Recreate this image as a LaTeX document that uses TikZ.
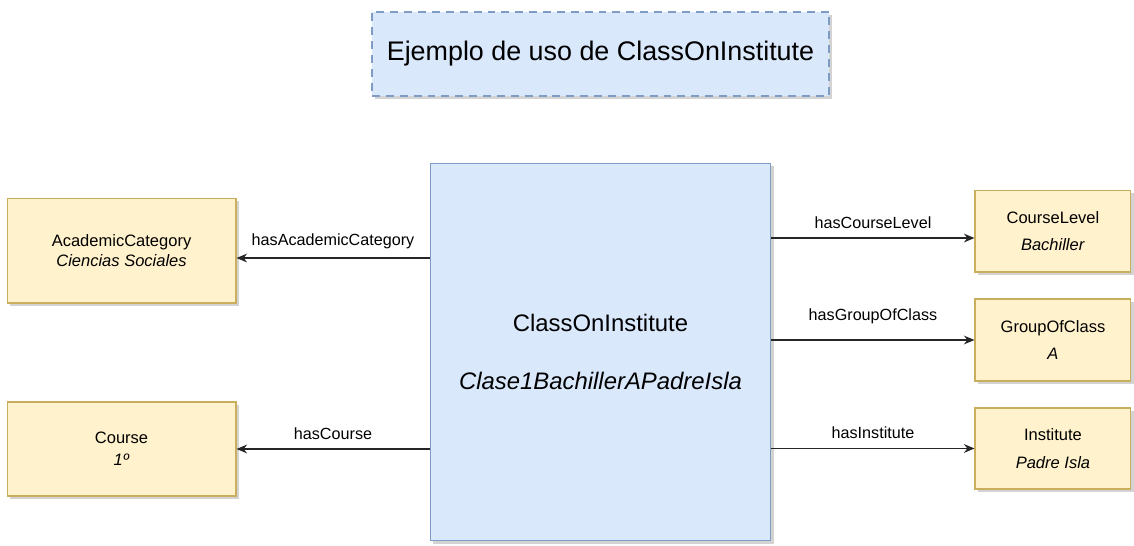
\documentclass[tikz,border=0pt]{standalone}
\usepackage{fontspec}
\setmainfont{Liberation Sans}
\usetikzlibrary{arrows.meta,shapes,positioning,shadows}

\definecolor{boxyellow}{HTML}{FFF2CC}
\definecolor{lineyellow}{HTML}{C9AE5E}
\definecolor{boxblue}{HTML}{DAE8FC}
\definecolor{lineblue}{HTML}{7F9CC4}

\begin{document}
\begin{tikzpicture}[
        x=0.02cm, y=-0.02cm,
        every node/.style={align=center, inner sep=2pt},
        link/.style={draw=black!85, line width=0.7pt, -{Stealth[length=6pt,width=5pt]}},
        linklabel/.style={font=\fontsize{9.2}{11}\selectfont, above=3pt},
        entity/.style={draw=lineyellow, line width=0.6pt, fill=boxyellow, font=\fontsize{9.4}{11.3}\selectfont,
            drop shadow={shadow xshift=1.6pt, shadow yshift=-1.6pt, opacity=0.35}},
        mainclass/.style={draw=lineblue, line width=0.6pt, fill=boxblue, font=\fontsize{13.6}{16.3}\selectfont,
            minimum width=6.82cm, minimum height=7.56cm,
            drop shadow={shadow xshift=1.6pt, shadow yshift=-1.6pt, opacity=0.35}},
        titlebox/.style={draw=lineblue, dashed, dash pattern=on 4.5pt off 3.4pt, line width=0.9pt, fill=boxblue,
            font=\fontsize{15.3}{18}\selectfont, minimum width=9.14cm, minimum height=1.68cm,
            drop shadow={shadow xshift=1.6pt, shadow yshift=-1.6pt, opacity=0.35}}
    ]
    \useasboundingbox (0,0) rectangle (1134,545);

    % Nodes
      \node (cls)[mainclass] at (600.5,352) {ClassOnInstitute\\[16.5pt]\textit{Clase1BachillerAPadreIsla}};
      \node (title)[titlebox, above=1.32cm of cls] {Ejemplo de uso de ClassOnInstitute};

      \node (acad)[entity, left=3.86cm of cls, yshift=2.03cm, minimum width=4.58cm, minimum height=2.1cm]
            {AcademicCategory\\[0.5pt]\textit{Ciencias Sociales}};
      \node (course)[entity, left=3.86cm of cls, yshift=-1.94cm, minimum width=4.58cm, minimum height=1.88cm]
            {Course\\[1.5pt]\textit{1º}};

      \node (level)[entity, right=4.06cm of cls, yshift=2.42cm, minimum width=3.12cm, minimum height=1.64cm]
            {CourseLevel\\[4pt]\textit{Bachiller}};
      \node (group)[entity, right=4.06cm of cls, yshift=0.24cm, minimum width=3.12cm, minimum height=1.64cm]
            {GroupOfClass\\[4.5pt]\textit{A}};
      \node (inst)[entity, right=4.06cm of cls, yshift=-1.93cm, minimum width=3.12cm, minimum height=1.62cm]
            {Institute\\[4.5pt]\textit{Padre Isla}};

    \draw[link] ([yshift=-0.15cm]cls.west |- acad.east) -- node[linklabel] {hasAcademicCategory} ([yshift=-0.15cm]acad.east);
    \draw[link] (cls.west |- course.east) -- node[linklabel] {hasCourse} (course.east);

    \draw[link] ([yshift=-0.14cm]cls.east |- level.west) -- node[linklabel] {hasCourseLevel} ([yshift=-0.14cm]level.west);
    \draw[link] (cls.east |- group.west) -- node[linklabel, above=7pt] {hasGroupOfClass} (group.west);
    \draw[link] (cls.east |- inst.west) -- node[linklabel] {hasInstitute} (inst.west);

\end{tikzpicture}
\end{document}
